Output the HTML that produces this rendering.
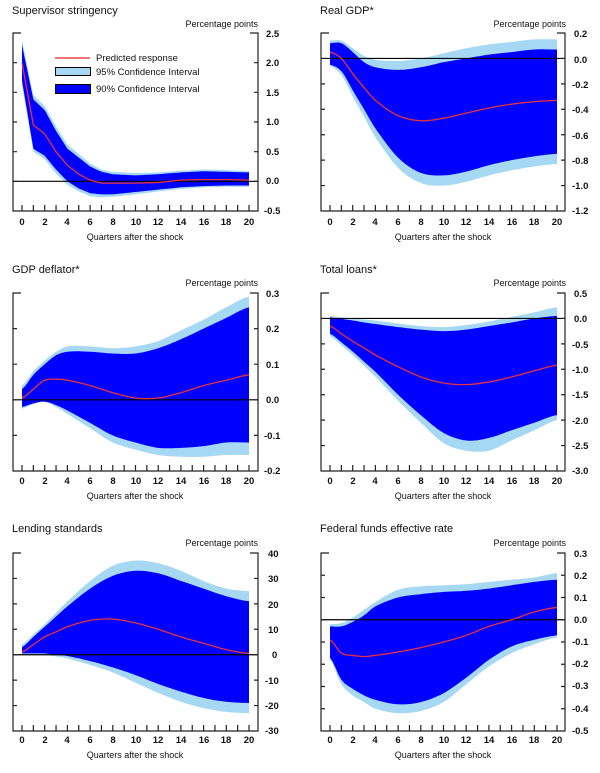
<!DOCTYPE html>
<html><head><meta charset="utf-8"><style>
body{margin:0;background:#fff}
svg{display:block}
text{font-family:"Liberation Sans",sans-serif;fill:#111}
.t{font-size:11px}
.p{font-size:9px;text-anchor:end}
.y{font-size:9.5px;font-weight:bold}
.x{font-size:9.5px;font-weight:bold;text-anchor:middle}
.q{font-size:9px;text-anchor:middle}
.l{font-size:9.5px}
</style></head><body>
<svg id="s" width="600" height="773" viewBox="0 0 600 773">
<g id="bands"></g>
<text class="t" x="12" y="14">Supervisor stringency</text>
<text class="t" x="320" y="14">Real GDP*</text>
<text class="t" x="12" y="273">GDP deflator*</text>
<text class="t" x="320" y="273">Total loans*</text>
<text class="t" x="12" y="532">Lending standards</text>
<text class="t" x="320" y="532">Federal funds effective rate</text>
<text class="p" x="258" y="27">Percentage points</text>
<text class="p" x="566" y="27">Percentage points</text>
<text class="p" x="258" y="286">Percentage points</text>
<text class="p" x="566" y="286">Percentage points</text>
<text class="p" x="258" y="546">Percentage points</text>
<text class="p" x="566" y="546">Percentage points</text>
<text class="q" x="135" y="240">Quarters after the shock</text>
<text class="q" x="443" y="240">Quarters after the shock</text>
<text class="q" x="135" y="499">Quarters after the shock</text>
<text class="q" x="443" y="499">Quarters after the shock</text>
<text class="q" x="135" y="758">Quarters after the shock</text>
<text class="q" x="443" y="758">Quarters after the shock</text>
<g class="y">
<text x="266" y="37">2.5</text><text x="266" y="66">2.0</text><text x="266" y="96">1.5</text><text x="266" y="125">1.0</text><text x="266" y="155">0.5</text><text x="266" y="184">0.0</text><text x="264" y="214">-0.5</text>
<text x="574" y="37">0.2</text><text x="574" y="63">0.0</text><text x="572" y="88">-0.2</text><text x="572" y="113">-0.4</text><text x="572" y="139">-0.6</text><text x="572" y="164">-0.8</text><text x="572" y="189">-1.0</text><text x="572" y="214">-1.2</text>
<text x="266" y="297">0.3</text><text x="266" y="332">0.2</text><text x="266" y="368">0.1</text><text x="266" y="403">0.0</text><text x="264" y="439">-0.1</text><text x="264" y="474">-0.2</text>
<text x="574" y="297">0.5</text><text x="574" y="322">0.0</text><text x="572" y="348">-0.5</text><text x="572" y="373">-1.0</text><text x="572" y="398">-1.5</text><text x="572" y="424">-2.0</text><text x="572" y="449">-2.5</text><text x="572" y="474">-3.0</text>
<text x="268" y="557">40</text><text x="268" y="582">30</text><text x="268" y="608">20</text><text x="268" y="633">10</text><text x="272" y="658">0</text><text x="265" y="684">-10</text><text x="265" y="709">-20</text><text x="265" y="734">-30</text>
<text x="574" y="557">0.3</text><text x="574" y="579">0.2</text><text x="574" y="601">0.1</text><text x="574" y="623">0.0</text><text x="572" y="645">-0.1</text><text x="572" y="667">-0.2</text><text x="572" y="689">-0.3</text><text x="572" y="712">-0.4</text><text x="572" y="734">-0.5</text>
</g>
<g class="x" id="xl">
<text x="22" y="225">0</text><text x="45" y="225">2</text><text x="67" y="225">4</text><text x="90" y="225">6</text><text x="113" y="225">8</text><text x="136" y="225">10</text><text x="158" y="225">12</text><text x="181" y="225">14</text><text x="204" y="225">16</text><text x="226" y="225">18</text><text x="249" y="225">20</text>
</g>
<line x1="55" y1="58" x2="90" y2="58" stroke="#e02020" stroke-width="1.2"/>
<text class="l" x="96" y="61">Predicted response</text>
<rect x="55.5" y="67.5" width="35" height="8" fill="#a6d8f4" stroke="#000" stroke-width="1"/>
<text class="l" x="96" y="75">95% Confidence Interval</text>
<rect x="55.5" y="84.5" width="35" height="9" fill="#0000ff" stroke="#000" stroke-width="1"/>
<text class="l" x="96" y="92">90% Confidence Interval</text>
</svg>
<script>
var S=document.getElementById('s'),B=document.getElementById('bands'),NS='http://www.w3.org/2000/svg';
function el(n,a,p){var e=document.createElementNS(NS,n);for(var k in a)e.setAttribute(k,a[k]);(p||B).appendChild(e);return e;}
var xl=document.getElementById('xl');
[[308,0],[0,259],[308,259],[0,518],[308,518]].forEach(function(o){var c=xl.cloneNode(true);c.removeAttribute('id');c.setAttribute('transform','translate('+o[0]+','+o[1]+')');S.appendChild(c);});
function interp(xs,ys,q,lin){for(var i=0;i<xs.length-1;i++){if(q<=xs[i+1]){var x0=xs[i],x1=xs[i+1];var p0=ys[Math.max(i-1,0)],p1=ys[i],p2=ys[i+1],p3=ys[Math.min(i+2,ys.length-1)];var t=(q-x0)/(x1-x0);
if(lin)return p1+(p2-p1)*t;
var h=x1-x0,hm=i>0?xs[i]-xs[i-1]:h,hp=i+2<xs.length?xs[i+2]-xs[i+1]:h;
var m1=(p2-p0)/(h+hm)*h,m2=(p3-p1)/(h+hp)*h;
var t2=t*t,t3=t2*t;return (2*t3-3*t2+1)*p1+(t3-2*t2+t)*m1+(-2*t3+3*t2)*p2+(t3-t2)*m2;}}return ys[ys.length-1];}
function panel(P){
 var X=function(q){return P.x0+(P.x20-P.x0)*q/20},Y=function(v){return P.top+(P.ymax-v)/(P.ymax-P.ymin)*(P.bot-P.top)};
 function pts(k){var a=[];for(var q=0;q<=20.001;q+=0.25)a.push([X(q),Y(interp(P.xs,P[k],q,P.lin))]);return a;}
 function band(lo,hi,c){var a=pts(hi),b=pts(lo).reverse();el('path',{d:'M'+a.concat(b).map(function(p){return p[0].toFixed(1)+','+p[1].toFixed(1)}).join('L')+'Z',fill:c});}
 band('lo95','hi95','#a6d8f4');band('lo90','hi90','#0000ff');
 el('line',{x1:P.l,x2:P.r,y1:Y(0),y2:Y(0),stroke:'#000','stroke-width':1.2});
 el('path',{d:'M'+pts('m').map(function(p){return p[0].toFixed(1)+','+p[1].toFixed(1)}).join('L'),fill:'none',stroke:'#e8323c','stroke-width':1.3});
 var d='M'+(P.l+8)+','+P.top+'H'+P.l+'V'+P.bot+'H'+P.r+'V'+P.top+'H'+(P.r-8);
 for(var q=0;q<=20;q++)d+='M'+X(q)+','+P.bot+'v-6';
 for(var v=P.ymin;v<=P.ymax+1e-9;v+=P.step){d+='M'+P.l+','+Y(v)+'h4M'+P.r+','+Y(v)+'h-4';}
 el('path',{d:d,fill:'none',stroke:'#222','stroke-width':1.2});
}
var L={l:13,r:258,x0:22,x20:249},R={l:321,r:565,x0:330,x20:557};
function mk(g,top,o){var P=Object.assign({},g,o);P.top=top;P.bot=top+178;panel(P);}
mk(L,33,{lin:true,ymax:2.5,ymin:-0.5,step:0.5,xs:[0,1,2,3,4,5,6,7,8,10,12,14,16,18,20],
 m:[2.0,0.95,0.8,0.5,0.27,0.12,0.02,-0.03,-0.03,-0.03,-0.02,0.02,0.03,0.03,0.02],
 hi90:[2.3,1.38,1.2,0.85,0.55,0.4,0.25,0.16,0.12,0.1,0.12,0.15,0.17,0.16,0.15],
 hi95:[2.38,1.45,1.27,0.93,0.62,0.46,0.3,0.2,0.16,0.14,0.15,0.18,0.2,0.19,0.17],
 lo90:[1.7,0.55,0.43,0.2,0.0,-0.12,-0.2,-0.22,-0.22,-0.18,-0.14,-0.1,-0.08,-0.07,-0.07],
 lo95:[1.62,0.5,0.37,0.13,-0.06,-0.17,-0.25,-0.27,-0.26,-0.22,-0.17,-0.13,-0.1,-0.09,-0.09]});
mk(R,33,{ymax:0.2,ymin:-1.2,step:0.2,xs:[0,1,2,3,4,6,8,10,12,14,16,18,20],
 m:[0.05,0.0,-0.12,-0.23,-0.33,-0.45,-0.49,-0.47,-0.43,-0.39,-0.36,-0.34,-0.33],
 hi90:[0.12,0.12,0.05,-0.03,-0.07,-0.09,-0.07,-0.03,0.0,0.03,0.05,0.07,0.07],
 hi95:[0.14,0.14,0.08,0.02,-0.01,-0.02,0.0,0.04,0.08,0.11,0.13,0.15,0.15],
 lo90:[-0.05,-0.1,-0.25,-0.4,-0.55,-0.78,-0.9,-0.92,-0.89,-0.84,-0.8,-0.77,-0.75],
 lo95:[-0.06,-0.13,-0.3,-0.46,-0.62,-0.86,-0.98,-1.0,-0.97,-0.92,-0.88,-0.85,-0.83]});
mk(L,293,{ymax:0.3,ymin:-0.2,step:0.1,xs:[0,1,2,3,4,6,8,10,12,14,16,18,20],
 m:[0.005,0.03,0.055,0.058,0.055,0.04,0.02,0.005,0.005,0.02,0.04,0.055,0.07],
 hi90:[0.03,0.07,0.1,0.125,0.135,0.135,0.13,0.13,0.145,0.17,0.2,0.23,0.26],
 hi95:[0.04,0.08,0.11,0.135,0.15,0.15,0.145,0.15,0.165,0.195,0.225,0.26,0.29],
 lo90:[-0.02,-0.01,-0.005,-0.015,-0.03,-0.065,-0.1,-0.12,-0.135,-0.135,-0.13,-0.12,-0.12],
 lo95:[-0.025,-0.012,-0.006,-0.02,-0.04,-0.08,-0.12,-0.14,-0.155,-0.16,-0.16,-0.155,-0.155]});
mk(R,293,{ymax:0.5,ymin:-3,step:0.5,xs:[0,1,2,3,4,6,8,10,12,14,16,18,20],
 m:[-0.15,-0.3,-0.45,-0.58,-0.72,-0.95,-1.15,-1.27,-1.3,-1.25,-1.15,-1.03,-0.92],
 hi90:[0.02,-0.01,-0.04,-0.08,-0.11,-0.17,-0.22,-0.25,-0.22,-0.15,-0.08,0.0,0.05],
 hi95:[0.05,0.02,0.0,-0.02,-0.04,-0.1,-0.15,-0.17,-0.13,-0.06,0.03,0.12,0.22],
 lo90:[-0.3,-0.47,-0.65,-0.85,-1.05,-1.5,-1.9,-2.25,-2.4,-2.35,-2.2,-2.05,-1.9],
 lo95:[-0.35,-0.53,-0.72,-0.93,-1.15,-1.62,-2.05,-2.45,-2.6,-2.6,-2.4,-2.2,-2.0]});
mk(L,553,{ymax:40,ymin:-30,step:10,xs:[0,1,2,3,4,6,8,10,12,14,16,18,20],
 m:[1,4,7,9,11,13.5,14,12.5,10,7,4.5,2,0.5],
 hi90:[3,7,11,15,19,26,31,33,32,29,26,23,21],
 hi95:[4,8,12,16.5,21,29,35,37,36,33,29,26,25],
 lo90:[0.5,0.5,0.5,0,-0.5,-2.5,-5,-8,-11.5,-14.5,-17,-18.5,-19],
 lo95:[0,0,0,-0.7,-1.5,-4,-7,-11,-15,-18.5,-21,-22.5,-23]});
mk(R,553,{ymax:0.3,ymin:-0.5,step:0.1,xs:[0,1,2,3,4,6,8,10,12,14,16,18,20],
 m:[-0.09,-0.15,-0.16,-0.165,-0.16,-0.145,-0.125,-0.1,-0.07,-0.03,0.0,0.035,0.055],
 hi90:[-0.03,-0.03,-0.01,0.02,0.06,0.1,0.115,0.125,0.13,0.14,0.155,0.17,0.18],
 hi95:[-0.02,-0.015,0.01,0.045,0.08,0.135,0.15,0.155,0.16,0.17,0.18,0.19,0.21],
 lo90:[-0.17,-0.27,-0.31,-0.34,-0.36,-0.38,-0.37,-0.33,-0.26,-0.18,-0.12,-0.09,-0.07],
 lo95:[-0.18,-0.29,-0.34,-0.37,-0.4,-0.42,-0.41,-0.37,-0.29,-0.21,-0.15,-0.11,-0.08]});
</script>
</body></html>
